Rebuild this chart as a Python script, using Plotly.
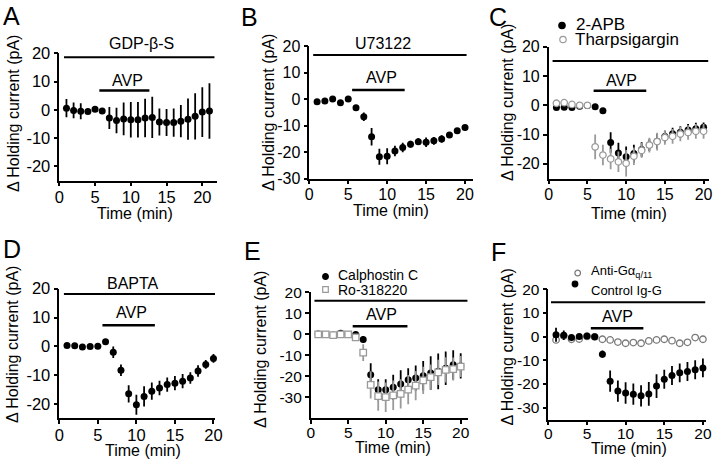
import plotly.graph_objects as go

W, H = 714, 466
FONT = "Liberation Sans, Arial, sans-serif"

# ---------------- data ----------------
time_A = list(range(1, 22))
gdp_mean = [0.6, -0.2, -0.5, -0.6, 0.2, -0.4, -2.9, -3.8, -3.2, -3.5, -3.5, -2.9, -2.7, -4.3, -4.5, -4.5, -4.0, -3.3, -2.3, -0.8, -0.4]
gdp_sem = [3.2, 2.8, 2.8, 0.8, 0.6, 0.8, 3.9, 4.5, 5.8, 6.3, 6.3, 6.8, 7.3, 4.8, 4.8, 5.0, 5.7, 7.3, 8.2, 8.8, 9.8]

time_B = list(range(1, 21))
u73_mean = [-1.0, -0.8, 0.0, -1.4, 0.0, -3.3, -6.7, -14.2, -21.8, -21.6, -19.6, -18.3, -17.1, -16.1, -16.3, -15.8, -15.1, -13.6, -12.0, -10.8]
u73_sem = [0.5, 0.4, 0.4, 0.8, 0.4, 1.0, 1.6, 3.3, 3.0, 3.0, 2.0, 1.8, 1.3, 1.3, 1.8, 1.5, 1.4, 1.1, 1.0, 1.0]

time_C = list(range(1, 21))
apb_mean = [-0.8, -0.7, -0.8, -0.3, -0.1, -0.5, -1.9, -12.7, -16.3, -17.6, -16.5, -15.1, -13.6, -12.3, -10.7, -9.7, -9.2, -8.4, -8.0, -7.5]
apb_sem = [0.6, 0.6, 0.6, 0.4, 0.4, 0.5, 0.6, 3.5, 3.5, 3.5, 3.0, 2.5, 2.0, 2.5, 2.0, 2.0, 2.0, 2.0, 2.0, 1.6]
tg_mean = [0.7, 0.9, 0.3, 0.0, 0.0, -14.2, -17.0, -18.3, -19.3, -19.8, -17.4, -15.4, -13.6, -12.4, -11.0, -10.6, -9.8, -9.3, -8.9, -8.9]
tg_sem = [0.5, 0.5, 0.5, 0.4, 0.4, 4.2, 3.5, 3.5, 3.5, 4.5, 3.0, 2.5, 2.5, 3.0, 2.5, 2.5, 2.5, 2.5, 2.5, 2.5]

time_D = list(range(1, 21))
bapta_mean = [0.3, 0.2, -0.2, -0.1, 0.0, 1.6, -2.1, -8.3, -16.5, -20.3, -17.4, -15.6, -14.5, -13.3, -12.8, -12.1, -11.0, -8.6, -6.3, -4.2]
bapta_sem = [0.8, 0.8, 0.4, 0.4, 0.4, 0.8, 2.0, 2.0, 3.0, 3.5, 3.5, 3.0, 2.5, 2.5, 2.5, 2.5, 2.0, 2.0, 1.5, 1.5]

time_E = list(range(1, 21))
calph_mean = [0.2, 0.0, -0.3, 0.5, 0.0, 0.0, -2.4, -19.2, -26.3, -26.3, -25.2, -23.6, -21.6, -20.8, -19.7, -18.4, -17.6, -16.1, -14.5, -15.0]
calph_sem = [0.8, 0.8, 0.8, 1.0, 0.6, 0.8, 1.5, 5.5, 5.0, 5.0, 6.0, 6.5, 5.5, 6.0, 7.0, 8.0, 8.5, 8.0, 7.0, 6.0]
ro_mean = [0.0, 0.0, -0.3, 0.0, 0.0, -1.4, -8.7, -24.0, -29.4, -29.9, -29.0, -28.3, -26.3, -24.4, -21.9, -20.3, -18.1, -16.9, -16.5, -15.3]
ro_sem = [0.6, 0.6, 0.6, 0.6, 0.5, 1.0, 4.0, 6.5, 7.0, 7.0, 7.0, 7.0, 7.0, 7.0, 6.5, 6.0, 6.0, 6.0, 5.5, 5.0]

time_F = list(range(1, 21))
anti_mean = [-1.4, 0.3, -1.1, -1.0, 0.1, -0.1, -1.1, -1.4, -2.3, -2.8, -2.5, -2.8, -1.8, -1.4, -1.1, -1.7, -2.8, -2.4, -0.4, -1.1]
ctrl_mean = [0.8, 0.6, -0.4, 0.1, 0.3, 0.0, -7.4, -18.8, -23.0, -23.8, -24.3, -25.0, -24.2, -20.9, -18.0, -16.4, -15.3, -14.7, -14.0, -13.2]
ctrl_sem = [3.0, 2.0, 0.8, 0.8, 0.6, 0.6, 1.5, 4.5, 4.5, 4.5, 4.5, 4.5, 5.0, 5.0, 4.0, 4.0, 4.0, 4.0, 4.0, 4.0]

# treatment bars: (start, end, level) in data units
drug_bars = {
    "A": (0.66, 21.7, 18.6),
    "B": (0.5, 20.2, 16.6),
    "C": (0.5, 20.6, 15.1),
    "D": (0.6, 20.2, 18.2),
    "E": (0.5, 20.9, 16.0),
    "F": (0.35, 20.3, 14.5),
}
avp_bars = {
    "A": (5.6, 12.6, 6.8),
    "B": (5.5, 12.25, 3.4),
    "C": (5.8, 12.6, 5.0),
    "D": (5.6, 12.4, 7.3),
    "E": (5.6, 12.9, 3.9),
    "F": (5.5, 12.3, 3.5),
}

# ---------------- layout geometry (pixels) ----------------
panels = {
    # name: (x_px0, x_px1, xmax, y_px_top, y_px_bot, ymin, ymax, yticks, tick font, x label standoff)
    "A": (59.3, 216.6, 22.0, 53.3, 180.5, -25, 20, [-20, -10, 0, 10, 20], 16.5, -3),
    "B": (309.3, 472.8, 21.0, 46.0, 178.5, -30, 20, [-30, -20, -10, 0, 10, 20], 16, -3),
    "C": (548.7, 709.0, 20.7, 46.7, 178.5, -25, 20, [-20, -10, 0, 10, 20], 16, -3),
    "D": (59.3, 215.0, 20.2, 288.7, 418.3, -25, 20, [-20, -10, 0, 10, 20], 16.5, -3),
    "E": (310.7, 468.2, 21.0, 292.4, 418.4, -40, 20, [-30, -20, -10, 0, 10, 20], 15.5, -5),
    "F": (548.3, 706.0, 20.4, 289.3, 419.5, -35, 20, [-30, -20, -10, 0, 10, 20], 15.5, -5),
}
order = ["A", "B", "C", "D", "E", "F"]


def px(x):
    return x / W


def py(y):
    return 1 - y / H


fig = go.Figure()
fig.update_layout(template="none")
axis_ids = {}
for i, name in enumerate(order):
    x0, x1, xmax, yt, yb, ymin, ymax, yticks, tfs, xso = panels[name]
    n = "" if i == 0 else str(i + 1)
    axis_ids[name] = ("x" + n, "y" + n)
    common = dict(showline=True, linecolor="black", linewidth=1.5, ticks="outside",
                  ticklen=4, tickwidth=1.5, tickcolor="black", showgrid=False,
                  zeroline=False, tickfont=dict(family=FONT, size=tfs, color="black"),
                  fixedrange=True, automargin=False)
    fig.layout["xaxis" + n] = dict(domain=[px(x0), px(x1)], range=[0, xmax],
                                   tickvals=[0, 5, 10, 15, 20], anchor="y" + n,
                                   ticklabelstandoff=xso, **common)
    fig.layout["yaxis" + n] = dict(domain=[py(yb), py(yt)], range=[ymin, ymax],
                                   tickvals=yticks, ticktext=[str(v) for v in yticks],
                                   anchor="x" + n, **common)


def filled(name, t, m, s):
    xa, ya = axis_ids[name]
    fig.add_trace(go.Scatter(
        x=t, y=m, mode="markers", xaxis=xa, yaxis=ya, showlegend=False,
        marker=dict(symbol="circle", size=7, color="black", line=dict(width=0)),
        error_y=dict(type="data", array=s, color="black", thickness=1.8, width=0),
        cliponaxis=False))


def opened(name, t, m, s, symbol="circle", col="#9a9a9a", size=6.5):
    xa, ya = axis_ids[name]
    err = dict(type="data", array=s, color=col, thickness=1.8, width=0) if s else None
    fig.add_trace(go.Scatter(
        x=t, y=m, mode="markers", xaxis=xa, yaxis=ya, showlegend=False,
        marker=dict(symbol=symbol, size=size, color="white", line=dict(color=col, width=1.3)),
        error_y=err, cliponaxis=False))


filled("A", time_A, gdp_mean, gdp_sem)
filled("B", time_B, u73_mean, u73_sem)
filled("C", time_C, apb_mean, apb_sem)
opened("C", time_C, tg_mean, tg_sem)
filled("D", time_D, bapta_mean, bapta_sem)
filled("E", time_E, calph_mean, calph_sem)
opened("E", time_E, ro_mean, ro_sem, symbol="square", size=6.5)
opened("F", time_F, anti_mean, None, col="#7a7a7a", size=6.5)
filled("F", time_F, ctrl_mean, ctrl_sem)

# treatment bars
for name in order:
    xa, ya = axis_ids[name]
    s0, s1, lvl = drug_bars[name]
    fig.add_shape(type="line", xref=xa, yref=ya, x0=s0, x1=s1, y0=lvl, y1=lvl,
                  line=dict(color="black", width=2))
    a0, a1, alvl = avp_bars[name]
    fig.add_shape(type="line", xref=xa, yref=ya, x0=a0, x1=a1, y0=alvl, y1=alvl,
                  line=dict(color="black", width=2.5))


def text(x, y, s, size=16, angle=0, xanchor="center"):
    fig.add_annotation(x=px(x), y=py(y), xref="paper", yref="paper", text=s,
                       showarrow=False, textangle=angle, xanchor=xanchor, yanchor="middle",
                       font=dict(family=FONT, size=size, color="black"))


# panel letters
for name, (lx, ly) in {"A": (11, 16), "B": (250, 17), "C": (498, 17),
                        "D": (12, 249), "E": (252, 251), "F": (498, 252)}.items():
    text(lx, ly, name, size=25)

# drug / AVP labels
text(141, 43.5, "GDP-β-S")
text(127.5, 80, "AVP")
text(382.5, 43.5, "U73122")
text(381.3, 77, "AVP")
text(621.8, 81, "AVP")
text(133.3, 283, "BAPTA")
text(131, 312, "AVP")
text(381.3, 314.5, "AVP")
text(617.7, 316, "AVP")

# axis titles
ytitle = "Δ Holding current (pA)"
for (x, y) in [(13, 114), (268, 113), (507, 103), (12, 345), (260, 350), (506.5, 347)]:
    text(x, y, ytitle, size=16, angle=-90)
for (x, y) in [(135, 213), (391, 210), (629, 214), (142.5, 450), (393, 447), (629, 448)]:
    text(x, y, "Time (min)", size=16)

# manual legends


def leg_marker(x, y, symbol, fill, line_col, r=3.2):
    fig.add_shape(type="circle" if symbol == "circle" else "rect",
                  xref="paper", yref="paper", xsizemode="pixel", ysizemode="pixel",
                  xanchor=px(x), yanchor=py(y), x0=-r, x1=r, y0=-r, y1=r,
                  fillcolor=fill, line=dict(color=line_col, width=1.2))


leg_marker(562, 25.5, "circle", "black", "black")
text(574, 25, "2-APB", size=17, xanchor="left")
leg_marker(563, 39.5, "circle", "white", "#9a9a9a")
text(573, 40, "Tharpsigargin", size=17, xanchor="left")

leg_marker(325.5, 276.5, "circle", "black", "black", r=2.8)
text(336, 275, "Calphostin C", size=14, xanchor="left")
leg_marker(325.5, 289.5, "square", "white", "#9a9a9a", r=2.8)
text(336, 290, "Ro-318220", size=14, xanchor="left")

leg_marker(577.7, 273, "circle", "white", "#7a7a7a", r=2.8)
text(589, 271, "Anti-Gα<sub>q/11</sub>", size=13, xanchor="left")
leg_marker(575, 284, "circle", "black", "black", r=2.8)
text(589, 290, "Control Ig-G", size=13, xanchor="left")

fig.update_layout(width=W, height=H, margin=dict(l=0, r=0, t=0, b=0, pad=0),
                  paper_bgcolor="white", plot_bgcolor="white", showlegend=False,
                  font=dict(family=FONT, color="black"))

fig.write_html("out.html", config={"displayModeBar": False},
               post_script="document.body.style.margin='0';document.body.style.padding='0';")
